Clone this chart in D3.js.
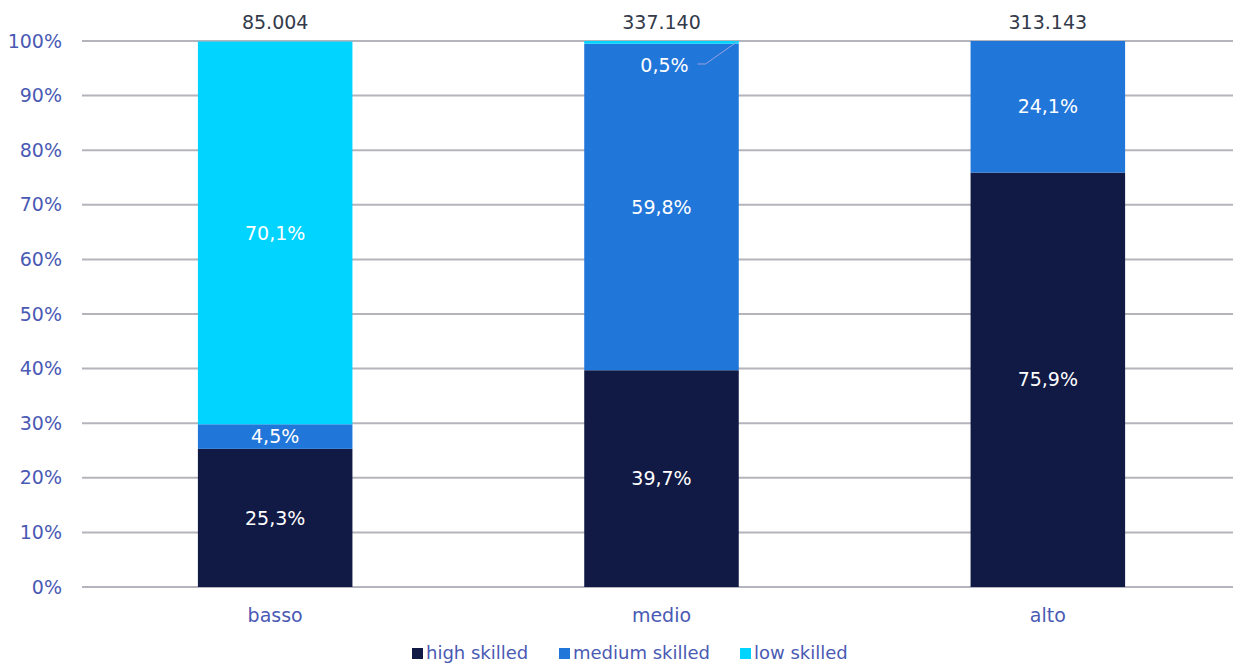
<!DOCTYPE html>
<html>
<head>
<meta charset="utf-8">
<script src="https://cdn.jsdelivr.net/npm/d3@7"></script>
<style>
  body { margin: 0; background: #fff; }
  svg { display: block; font-family: "DejaVu Sans", Verdana, sans-serif; }
</style>
</head>
<body>
<div id="chart"></div>
<script>
var categories = ['basso', 'medio', 'alto'];
var totals = ['85.004', '337.140', '313.143'];
var seriesNames = ['high skilled', 'medium skilled', 'low skilled'];
var highSkilled = [25.3, 39.7, 75.9];
var mediumSkilled = [4.5, 59.8, 24.1];
var lowSkilled = [70.1, 0.5, 0];
var yTicks = [0, 10, 20, 30, 40, 50, 60, 70, 80, 90, 100];
var colors = ['#111a45', '#2176d9', '#00d4ff'];

var width = 1233, height = 664;
var margin = { left: 82, right: -8, top: 41, bottom: 77 };
var fontSize = '19px';

var svg = d3.select('#chart').append('svg')
    .attr('width', width)
    .attr('height', height);

var x = d3.scaleBand()
    .domain(categories)
    .range([margin.left, width - margin.right])
    .paddingInner(0.6)
    .paddingOuter(0.3);

var y = d3.scaleLinear()
    .domain([0, 100])
    .range([height - margin.bottom, margin.top]);

// gridlines
svg.append('g')
  .selectAll('line')
  .data(yTicks)
  .enter().append('line')
    .attr('x1', margin.left)
    .attr('x2', width)
    .attr('y1', function(d) { return y(d); })
    .attr('y2', function(d) { return y(d); })
    .style('stroke', '#b4b4bc')
    .style('stroke-width', 2);

// y axis labels
svg.append('g')
  .selectAll('text')
  .data(yTicks)
  .enter().append('text')
    .attr('x', 62)
    .attr('y', function(d) { return y(d); })
    .attr('dy', '0.35em')
    .attr('text-anchor', 'end')
    .style('font-size', fontSize)
    .style('fill', '#4a5ab4')
    .text(function(d) { return d + '%'; });

var rows = categories.map(function(c, i) {
  return { cat: c, 'high skilled': highSkilled[i], 'medium skilled': mediumSkilled[i], 'low skilled': lowSkilled[i] };
});
var stack = d3.stack().keys(seriesNames)(rows);

var layers = svg.append('g')
  .selectAll('g')
  .data(stack)
  .enter().append('g')
    .style('fill', function(d, i) { return colors[i]; });

layers.selectAll('rect')
  .data(function(d) { return d; })
  .enter().append('rect')
    .attr('x', function(d) { return x(d.data.cat); })
    .attr('width', x.bandwidth())
    .attr('y', function(d) { return y(d[1]); })
    .attr('height', function(d) { return y(d[0]) - y(d[1]); });

// data labels
var fmt = function(v) { return v.toFixed(1).replace('.', ',') + '%'; };
stack.forEach(function(layer) {
  layer.forEach(function(d) {
    var v = d[1] - d[0];
    if (v <= 0) return;
    var cx = x(d.data.cat) + x.bandwidth() / 2;
    var cy = (y(d[0]) + y(d[1])) / 2;
    if (v < 2) {
      // small segment: label pushed below with a leader line
      var ly = y(d[1]) + 24;
      svg.append('path')
        .attr('d', 'M ' + (cx + 36) + ' ' + (ly - 1) + ' L ' + (cx + 44) + ' ' + (ly - 1) +
                   ' L ' + (x(d.data.cat) + x.bandwidth() - 2) + ' ' + (y(d[1]) + 1))
        .style('fill', 'none')
        .style('stroke', '#9aa0e0')
        .style('stroke-width', 1);
      svg.append('text')
        .attr('x', cx + 3)
        .attr('y', ly)
        .attr('dy', '0.35em')
        .attr('text-anchor', 'middle')
        .style('font-size', fontSize)
        .style('fill', '#fff')
        .text(fmt(v));
      return;
    }
    svg.append('text')
      .attr('x', cx)
      .attr('y', cy)
      .attr('dy', '0.35em')
      .attr('text-anchor', 'middle')
      .style('font-size', fontSize)
      .style('fill', '#fff')
      .text(fmt(v));
  });
});

// totals above bars
svg.append('g')
  .selectAll('text')
  .data(categories)
  .enter().append('text')
    .attr('x', function(d) { return x(d) + x.bandwidth() / 2; })
    .attr('y', 22)
    .attr('dy', '0.35em')
    .attr('text-anchor', 'middle')
    .style('font-size', fontSize)
    .style('fill', '#333a4a')
    .text(function(d, i) { return totals[i]; });

// x labels
svg.append('g')
  .selectAll('text')
  .data(categories)
  .enter().append('text')
    .attr('x', function(d) { return x(d) + x.bandwidth() / 2; })
    .attr('y', 615)
    .attr('dy', '0.35em')
    .attr('text-anchor', 'middle')
    .style('font-size', fontSize)
    .style('fill', '#4a5ab4')
    .text(function(d) { return d; });

// legend
var legendX = [412, 559, 740];
var legend = svg.append('g')
  .selectAll('g')
  .data(seriesNames)
  .enter().append('g')
    .attr('transform', function(d, i) { return 'translate(' + legendX[i] + ',653)'; });
legend.append('rect')
  .attr('x', 0).attr('y', -5)
  .attr('width', 11).attr('height', 11)
  .style('fill', function(d, i) { return colors[i]; });
legend.append('text')
  .attr('x', 14)
  .attr('y', 0)
  .attr('dy', '0.35em')
  .style('font-size', '18px')
  .style('fill', '#4a5ab4')
  .text(function(d) { return d; });
</script>
</body>
</html>
